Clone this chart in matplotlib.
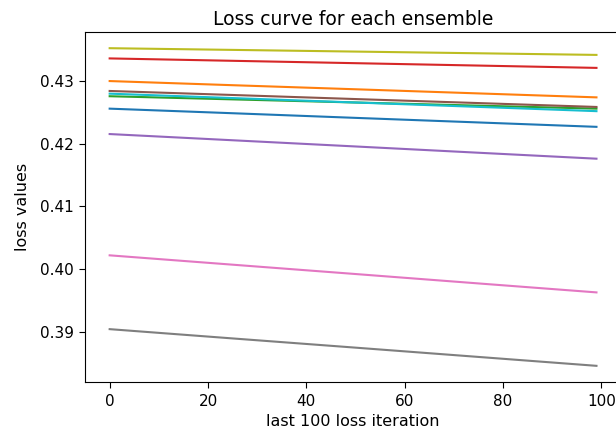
import matplotlib
matplotlib.use("Agg")
import matplotlib.pyplot as plt

iters = [0, 25, 50, 75, 99]

# loss values per ensemble member (tab10 order)
loss_0 = [0.42558, 0.42485, 0.42411, 0.42338, 0.42268]  # blue
loss_1 = [0.42998, 0.42932, 0.42867, 0.42801, 0.42738]  # orange
loss_2 = [0.42756, 0.42706, 0.42656, 0.42606, 0.42558]  # green
loss_3 = [0.43359, 0.43321, 0.43283, 0.43245, 0.43208]  # red
loss_4 = [0.42153, 0.42054, 0.41955, 0.41855, 0.41760]  # purple
loss_5 = [0.42840, 0.42776, 0.42711, 0.42647, 0.42585]  # brown
loss_6 = [0.40219, 0.40070, 0.39921, 0.39771, 0.39628]  # pink
loss_7 = [0.39042, 0.38894, 0.38747, 0.38599, 0.38457]  # gray
loss_8 = [0.43522, 0.43495, 0.43468, 0.43441, 0.43415]  # olive
loss_9 = [0.42797, 0.42727, 0.42656, 0.42586, 0.42518]  # cyan

losses = [loss_0, loss_1, loss_2, loss_3, loss_4,
          loss_5, loss_6, loss_7, loss_8, loss_9]

fig = plt.figure(figsize=(6.16, 4.32), dpi=100)
ax = fig.add_axes([0.1385, 0.1164, 0.8693, 0.8088])

for vals in losses:
    ax.plot(iters, vals)

ax.set_xticks([0, 20, 40, 60, 80, 100])
ax.tick_params(labelsize=11, length=4, pad=4.5)
ax.set_title("Loss curve for each ensemble", fontsize=13.5, pad=5)
ax.set_xlabel("last 100 loss iteration", fontsize=11.5)
ax.set_ylabel("loss values", fontsize=11.5, labelpad=7)

fig.savefig("out.png", dpi=100)
